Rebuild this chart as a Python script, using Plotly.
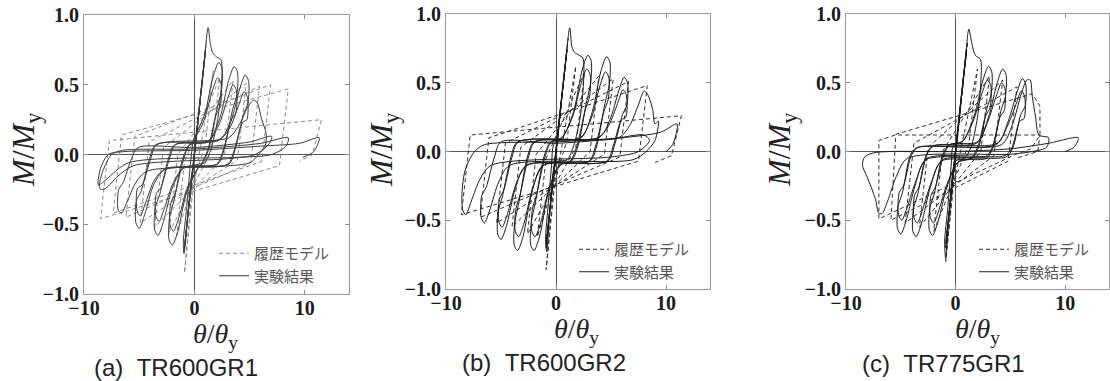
import plotly.graph_objects as go

# ---------------- data (theta/theta_y, M/M_y) ----------------
PANEL_CAPTIONS = ["(a)\u00a0\u00a0TR600GR1", "(b)\u00a0\u00a0TR600GR2", "(c)\u00a0\u00a0TR775GR1"]
LEGEND_NAMES = ["履歴モデル", "実験結果"]
X_TICKS = [-10, 0, 10]
X_TICKTEXT = ["\u221210", "0", "10"]
Y_TICKS = [-1.0, -0.5, 0.0, 0.5, 1.0]
Y_TICKTEXT = ["\u22121.0", "\u22120.5", "0.0", "0.5", "1.0"]

# (a) TR600GR1 : experiment
A_EXP = [
    (0, 0), (0.5, 0.37), (-0.5, -0.36), (1.0, 0.74), (-0.9, -0.67), (1.0, 0.75), (-0.95, -0.70),
    (0.0, 0.02), (0.9, 0.68), (1.24, 0.91), (1.45, 0.79), (1.65, 0.73), (2.0, 0.70), (2.4, 0.68),
    (2.45, 0.50), (2.1, 0.25), (1.5, 0.04), (0.9, -0.06),
    (0.0, -0.08), (-0.5, -0.35), (-0.8, -0.62), (-0.95, -0.71), (-1.0, -0.62), (-0.7, -0.38),
    (-0.4, -0.10), (-0.2, 0.05),
    (-0.1, 0.10), (0.9, 0.28), (1.7, 0.56), (2.2, 0.66), (2.5, 0.62), (2.45, 0.46), (2.05, 0.33), (1.3, 0.04), (0.7, -0.07),
    (0.3, -0.10), (-0.7, -0.27), (-1.5, -0.55), (-2.0, -0.65), (-2.3, -0.61), (-2.25, -0.45), (-1.85, -0.33), (-1.1, -0.04), (-0.5, 0.07),
    (-0.2, 0.09), (0.8, 0.23), (1.6, 0.45), (2.1, 0.55), (2.4, 0.51), (2.35, 0.35), (1.95, 0.28), (1.2, 0.03), (0.6, -0.07),
    (0.4, -0.09), (-0.6, -0.23), (-1.4, -0.45), (-1.9, -0.55), (-2.2, -0.51), (-2.15, -0.35), (-1.75, -0.28), (-1.0, -0.04), (-0.4, 0.07),
    (1.3, 0.10), (2.3, 0.26), (3.1, 0.53), (3.6, 0.63), (3.9, 0.59), (3.85, 0.43), (3.45, 0.32), (2.7, 0.04), (2.1, -0.07),
    (-1.0, -0.10), (-2.0, -0.24), (-2.8, -0.48), (-3.3, -0.58), (-3.6, -0.54), (-3.55, -0.38), (-3.15, -0.29), (-2.4, -0.04), (-1.8, 0.07),
    (1.2, 0.09), (2.2, 0.21), (3.0, 0.40), (3.5, 0.50), (3.8, 0.46), (3.75, 0.30), (3.35, 0.25), (2.6, 0.03), (2.0, -0.07),
    (-0.9, -0.09), (-1.9, -0.20), (-2.7, -0.38), (-3.2, -0.48), (-3.5, -0.44), (-3.45, -0.28), (-3.05, -0.24), (-2.3, -0.04), (-1.7, 0.07),
    (2.3, 0.11), (3.3, 0.24), (4.1, 0.47), (4.6, 0.57), (4.9, 0.53), (4.85, 0.37), (4.45, 0.29), (3.7, 0.04), (3.1, -0.07),
    (-2.7, -0.11), (-3.7, -0.22), (-4.5, -0.43), (-5.0, -0.53), (-5.3, -0.49), (-5.25, -0.33), (-4.85, -0.27), (-4.1, -0.04), (-3.5, 0.07),
    (2.2, 0.10), (3.2, 0.19), (4.0, 0.35), (4.5, 0.45), (4.8, 0.41), (4.75, 0.25), (4.35, 0.23), (3.6, 0.03), (3.0, -0.07),
    (-2.6, -0.10), (-3.6, -0.18), (-4.4, -0.34), (-4.9, -0.44), (-5.2, -0.40), (-5.15, -0.24), (-4.75, -0.22), (-4.0, -0.04), (-3.4, 0.07),
    (3.1, 0.12), (4.1, 0.22), (4.9, 0.35), (5.4, 0.39), (5.7, 0.37), (6.1, 0.25), (6.5, 0.15), (6.4, 0.06), (5.8, 0.0), (5.0, -0.06),
    (-4.3, -0.12), (-5.3, -0.20), (-6.1, -0.34), (-6.6, -0.42), (-6.9, -0.40), (-6.85, -0.25), (-6.45, -0.20), (-5.7, -0.03), (-5.1, 0.05),
    (0.0, 0.05), (5.0, 0.09), (7.0, 0.13), (6.8, 0.08), (5.5, 0.0), (3.0, -0.03),
    (-5.5, -0.08), (-7.0, -0.16), (-8.0, -0.24), (-8.5, -0.25), (-8.6, -0.22), (-8.3, -0.12), (-7.5, 0.0), (-6.5, 0.03),
    (0.0, 0.04), (6.0, 0.08), (8.5, 0.12), (8.3, 0.06), (7.0, 0.0), (4.0, -0.02),
    (-6.0, -0.06), (-8.0, -0.18), (-8.7, -0.22), (-8.5, -0.10), (-7.8, 0.0), (-6.5, 0.02),
    (0.0, 0.03), (6.0, 0.06), (9.5, 0.08), (11.3, 0.12), (10.8, 0.02), (9.8, -0.02),
]
# (a) TR600GR1 : hysteresis model
A_MODEL = [
    (0, 0), (1.1, 0.82), (0.4, 0.30), (-0.9, -0.85), (-0.2, -0.30),
    (1.7, 0.60), (1.0, 0.08), (-1.6, -0.58), (-0.9, -0.05),
    (2.3, 0.55), (1.5, 0.02), (-2.3, -0.56), (-1.5, 0.0),
    (3.5, 0.53), (2.7, -0.02), (-3.6, -0.52), (-2.8, 0.05),
    (4.7, 0.51), (3.9, -0.04), (-4.9, -0.49), (-4.1, 0.09),
    (5.9, 0.49), (5.1, -0.06), (-6.2, -0.45), (-5.4, 0.13),
    (6.9, 0.50), (6.1, -0.05), (-7.35, -0.42), (-6.6, 0.14),
    (8.5, 0.47), (7.7, -0.08), (-8.5, -0.46), (-7.7, 0.10),
    (11.5, 0.25), (10.7, 0.0), (9.5, -0.05),
]

# (b) TR600GR2 : experiment
B_EXP = [
    (0, 0), (0.5, 0.37), (-0.5, -0.36), (1.0, 0.74), (-0.9, -0.67), (1.0, 0.75), (-0.9, -0.70),
    (0.0, 0.02), (0.9, 0.68), (1.25, 0.90), (1.45, 0.76), (1.7, 0.72), (2.1, 0.70), (2.45, 0.68),
    (2.5, 0.50), (2.2, 0.25), (1.6, 0.04), (1.0, -0.06),
    (0.0, -0.08), (-0.5, -0.38), (-0.75, -0.65), (-0.85, -0.73), (-0.95, -0.64), (-0.7, -0.38),
    (-0.4, -0.10), (-0.2, 0.05),
    (0.6, 0.10), (1.6, 0.29), (2.4, 0.60), (2.9, 0.70), (3.2, 0.66), (3.15, 0.50), (2.75, 0.35), (2.0, 0.04), (1.4, -0.07),
    (0.3, -0.10), (-0.7, -0.30), (-1.5, -0.62), (-2.0, -0.72), (-2.3, -0.68), (-2.25, -0.52), (-1.85, -0.36), (-1.1, -0.04), (-0.5, 0.07),
    (0.5, 0.10), (1.5, 0.25), (2.3, 0.50), (2.8, 0.60), (3.1, 0.56), (3.05, 0.40), (2.65, 0.30), (1.9, 0.04), (1.3, -0.07),
    (0.4, -0.10), (-0.6, -0.26), (-1.4, -0.52), (-1.9, -0.62), (-2.2, -0.58), (-2.15, -0.42), (-1.75, -0.31), (-1.0, -0.04), (-0.4, 0.07),
    (2.3, 0.10), (3.3, 0.29), (4.1, 0.59), (4.6, 0.69), (4.9, 0.65), (4.85, 0.49), (4.45, 0.35), (3.7, 0.04), (3.1, -0.07),
    (-1.2, -0.10), (-2.2, -0.30), (-3.0, -0.62), (-3.5, -0.72), (-3.8, -0.68), (-3.75, -0.52), (-3.35, -0.36), (-2.6, -0.04), (-2.0, 0.07),
    (2.2, 0.10), (3.2, 0.24), (4.0, 0.48), (4.5, 0.58), (4.8, 0.54), (4.75, 0.38), (4.35, 0.29), (3.6, 0.04), (3.0, -0.07),
    (-1.1, -0.10), (-2.1, -0.26), (-2.9, -0.52), (-3.4, -0.62), (-3.7, -0.58), (-3.65, -0.42), (-3.25, -0.31), (-2.5, -0.04), (-1.9, 0.07),
    (3.9, 0.10), (4.9, 0.23), (5.7, 0.44), (6.2, 0.54), (6.5, 0.50), (6.45, 0.34), (6.05, 0.27), (5.3, 0.04), (4.7, -0.07),
    (-2.7, -0.10), (-3.7, -0.27), (-4.5, -0.54), (-5.0, -0.64), (-5.3, -0.60), (-5.25, -0.44), (-4.85, -0.32), (-4.1, -0.04), (-3.5, 0.07),
    (3.8, 0.10), (4.8, 0.19), (5.6, 0.35), (6.1, 0.45), (6.4, 0.41), (6.35, 0.25), (5.95, 0.23), (5.2, 0.04), (4.6, -0.07),
    (-2.6, -0.10), (-3.6, -0.23), (-4.4, -0.45), (-4.9, -0.55), (-5.2, -0.51), (-5.15, -0.35), (-4.75, -0.28), (-4.0, -0.04), (-3.4, 0.07),
    (5.7, 0.10), (6.7, 0.19), (7.5, 0.34), (8.0, 0.44), (8.3, 0.42), (8.6, 0.36), (8.8, 0.30), (9.0, 0.20), (9.3, 0.22),
    (9.0, 0.08), (8.2, 0.0), (7.0, -0.06),
    (-4.2, -0.10), (-5.2, -0.22), (-6.0, -0.42), (-6.5, -0.52), (-6.8, -0.48), (-6.75, -0.32), (-6.35, -0.26), (-5.6, -0.04), (-5.0, 0.07),
    (0.0, 0.06), (5.0, 0.09), (8.0, 0.12), (8.5, 0.08), (7.5, 0.0), (5.0, -0.04),
    (-5.9, -0.10), (-6.9, -0.20), (-7.7, -0.36), (-8.2, -0.46), (-8.5, -0.42), (-8.5, -0.25), (-8.2, -0.12), (-7.4, 0.0), (-6.5, 0.05),
    (0.0, 0.07), (6.0, 0.10), (9.5, 0.14), (11.0, 0.20), (10.6, 0.05), (10.0, 0.0),
]
# (b) TR600GR2 : hysteresis model
B_MODEL = [
    (0, 0), (1.1, 0.82), (0.4, 0.30), (-0.9, -0.86), (-0.2, -0.30),
    (1.8, 0.62), (1.0, 0.08), (-1.7, -0.62), (-0.9, -0.05),
    (2.6, 0.58), (1.8, 0.03), (-2.6, -0.60), (-1.8, -0.02),
    (3.9, 0.55), (3.1, 0.0), (-4.0, -0.55), (-3.2, 0.03),
    (5.2, 0.53), (4.4, -0.02), (-5.4, -0.52), (-4.6, 0.06),
    (6.6, 0.51), (5.8, -0.04), (-6.9, -0.48), (-6.1, 0.10),
    (8.3, 0.48), (7.5, -0.07), (-8.6, -0.46), (-7.8, 0.12),
    (11.4, 0.26), (10.5, -0.03), (9.0, -0.08),
]

# (c) TR775GR1 : experiment
C_EXP = [
    (0, 0), (0.5, 0.37), (-0.5, -0.36), (1.0, 0.74), (-0.9, -0.67), (1.0, 0.75), (-0.9, -0.70),
    (0.0, 0.02), (0.9, 0.68), (1.21, 0.89), (1.5, 0.78), (1.8, 0.70), (2.27, 0.67),
    (2.3, 0.50), (2.0, 0.25), (1.4, 0.03), (0.8, -0.05),
    (0.0, -0.07), (-0.5, -0.38), (-0.8, -0.68), (-0.9, -0.78), (-1.0, -0.66), (-0.7, -0.40),
    (-0.4, -0.10), (-0.2, 0.04),
    (0.7, 0.08), (1.7, 0.26), (2.5, 0.52), (3.0, 0.62), (3.3, 0.58), (3.25, 0.42), (2.85, 0.31), (2.1, 0.03), (1.5, -0.05),
    (0.2, -0.08), (-0.8, -0.26), (-1.6, -0.51), (-2.1, -0.61), (-2.4, -0.57), (-2.35, -0.41), (-1.95, -0.31), (-1.2, -0.03), (-0.6, 0.05),
    (0.6, 0.07), (1.6, 0.22), (2.4, 0.42), (2.9, 0.52), (3.2, 0.48), (3.15, 0.32), (2.75, 0.26), (2.0, 0.03), (1.4, -0.05),
    (0.3, -0.07), (-0.7, -0.22), (-1.5, -0.42), (-2.0, -0.52), (-2.3, -0.48), (-2.25, -0.32), (-1.85, -0.26), (-1.1, -0.03), (-0.5, 0.05),
    (2.0, 0.07), (3.0, 0.25), (3.8, 0.50), (4.3, 0.60), (4.6, 0.56), (4.55, 0.40), (4.15, 0.30), (3.4, 0.03), (2.8, -0.05),
    (-1.3, -0.07), (-2.3, -0.26), (-3.1, -0.52), (-3.6, -0.62), (-3.9, -0.58), (-3.85, -0.42), (-3.45, -0.31), (-2.7, -0.03), (-2.1, 0.04),
    (1.9, 0.06), (2.9, 0.21), (3.7, 0.40), (4.2, 0.50), (4.5, 0.46), (4.45, 0.30), (4.05, 0.25), (3.3, 0.02), (2.7, -0.04),
    (-1.2, -0.06), (-2.2, -0.22), (-3.0, -0.42), (-3.5, -0.52), (-3.8, -0.48), (-3.75, -0.32), (-3.35, -0.26), (-2.6, -0.02), (-2.0, 0.04),
    (3.8, 0.06), (4.8, 0.22), (5.6, 0.43), (6.1, 0.53), (6.4, 0.49), (6.35, 0.33), (5.95, 0.27), (5.2, 0.02), (4.6, -0.04),
    (-2.7, -0.06), (-3.7, -0.25), (-4.5, -0.50), (-5.0, -0.60), (-5.3, -0.56), (-5.25, -0.40), (-4.85, -0.30), (-4.1, -0.02), (-3.5, 0.03),
    (3.7, 0.05), (4.7, 0.18), (5.5, 0.34), (6.0, 0.44), (6.3, 0.40), (6.25, 0.24), (5.85, 0.22), (5.1, 0.02), (4.5, -0.03),
    (-2.6, -0.05), (-3.6, -0.21), (-4.4, -0.40), (-4.9, -0.50), (-5.2, -0.46), (-5.15, -0.30), (-4.75, -0.25), (-4.0, -0.02), (-3.4, 0.03),
    (4.2, 0.05), (5.2, 0.20), (6.0, 0.42), (6.5, 0.52), (6.8, 0.52), (7.0, 0.40), (7.3, 0.25), (7.6, 0.12), (8.5, 0.10),
    (8.3, 0.03), (7.0, 0.0), (5.0, -0.02),
    (-4.4, -0.05), (-5.4, -0.18), (-6.2, -0.36), (-6.7, -0.45), (-7.0, -0.45), (-7.3, -0.35), (-7.7, -0.26), (-8.1, -0.18),
    (-8.5, -0.10), (-8.3, -0.04), (-7.5, -0.01), (-6.0, 0.0),
    (0.0, 0.0), (5.0, 0.02), (8.5, 0.06), (11.2, 0.10), (10.8, 0.03), (10.0, 0.0),
]
# (c) TR775GR1 : hysteresis model
C_MODEL = [
    (0, 0), (1.1, 0.80), (0.4, 0.28), (-0.9, -0.80), (-0.2, -0.25),
    (2.0, 0.60), (1.2, 0.05), (-2.0, -0.58), (-1.2, 0.0),
    (3.1, 0.55), (2.3, 0.0), (-3.3, -0.55), (-2.5, 0.03),
    (4.3, 0.52), (3.5, -0.03), (-4.6, -0.52), (-3.8, 0.06),
    (5.6, 0.47), (4.8, -0.07), (-5.9, -0.50), (-5.45, 0.125),
    (7.0, 0.42), (7.7, 0.33), (7.7, 0.12), (6.9, 0.02), (5.5, -0.02),
    (-7.0, -0.49), (-7.0, 0.08), (-5.5, 0.12), (7.7, 0.12), (7.5, 0.0), (5.5, -0.05),
]

EXP_SERIES = [A_EXP, B_EXP, C_EXP]
MODEL_SERIES = [A_MODEL, B_MODEL, C_MODEL]

# ---------------- layout geometry (pixels of the 1110x381 page) ----------------
W, H = 1110, 381
PLOT_BOXES = [(84, 349, 15, 294), (446, 710, 14, 289), (846, 1109, 14, 289)]  # left, right, top, bottom
MODEL_COLORS = ["#8a8a8a", "#2e2e2e", "#2e2e2e"]
EXP_COLORS = ["#3a3a3a", "#1c1c1c", "#1c1c1c"]
YTITLE_POS = [(25, 150), (383, 149), (781, 150)]
XTITLE_POS = [(215, 335), (576, 330), (977, 330)]
CAPTION_POS = [(176, 367), (544, 362), (943, 363)]
LEGEND_POS = [(214, 237), (574, 233), (974, 233)]

fig = go.Figure()
layout = dict(
    width=W, height=H, autosize=False,
    margin=dict(l=0, r=0, t=0, b=0, pad=0, autoexpand=False),
    paper_bgcolor="white", plot_bgcolor="white",
    showlegend=True, annotations=[],
)

tick_font = dict(family="Liberation Serif", size=20, color="#1a1a1a")
for i in range(3):
    sfx = "" if i == 0 else str(i + 1)
    l, r, t, b = PLOT_BOXES[i]
    layout["xaxis" + sfx] = dict(
        domain=[l / W, r / W], range=[-10, 14], tickvals=X_TICKS,
        ticktext=["<b>" + s + "</b>" for s in X_TICKTEXT], automargin=False,
        ticklabelstandoff=-4,
        ticks="inside", ticklen=4, tickcolor="#888888", showline=True, linecolor="#9a9a9a",
        linewidth=1, mirror="ticks", zeroline=True, zerolinecolor="#555555", zerolinewidth=1,
        showgrid=False, tickfont=tick_font, anchor="y" + sfx, fixedrange=True,
    )
    layout["yaxis" + sfx] = dict(
        domain=[1 - b / H, 1 - t / H], range=[-1, 1], tickvals=Y_TICKS,
        ticktext=["<b>" + s + "</b>" for s in Y_TICKTEXT], automargin=False,
        ticks="inside", ticklen=4, tickcolor="#888888", showline=True, linecolor="#9a9a9a",
        linewidth=1, mirror="ticks", zeroline=True, zerolinecolor="#555555", zerolinewidth=1,
        showgrid=False, tickfont=tick_font, anchor="x" + sfx, fixedrange=True,
    )
    leg = "legend" + sfx
    lx, ly = LEGEND_POS[i]
    layout[leg] = dict(
        x=lx / W, y=1 - ly / H, xanchor="left", yanchor="top", bgcolor="rgba(0,0,0,0)",
        font=dict(family="Noto Sans CJK JP", size=15, color="#555555"),
        itemwidth=30, tracegroupgap=0, traceorder="normal",
    )

    model = MODEL_SERIES[i]
    exp = EXP_SERIES[i]
    fig.add_trace(go.Scatter(
        x=[p[0] for p in model], y=[p[1] for p in model], mode="lines",
        line=dict(color=MODEL_COLORS[i], width=1, dash="4px,3px"),
        name=LEGEND_NAMES[0], xaxis="x" + sfx, yaxis="y" + sfx, legend=leg, hoverinfo="skip",
    ))
    fig.add_trace(go.Scatter(
        x=[p[0] for p in exp], y=[p[1] for p in exp], mode="lines",
        line=dict(color=EXP_COLORS[i], width=1, shape="spline", smoothing=0.8),
        name=LEGEND_NAMES[1], xaxis="x" + sfx, yaxis="y" + sfx, legend=leg, hoverinfo="skip",
    ))

    yx, yy = YTITLE_POS[i]
    layout["annotations"].append(dict(
        x=yx / W, y=1 - yy / H, xref="paper", yref="paper", showarrow=False, textangle=-90,
        text="<i>M</i>/<i>M</i><sub>y</sub>",
        font=dict(family="Liberation Serif", size=32, color="#222222"),
        xanchor="center", yanchor="middle",
    ))
    xx, xy = XTITLE_POS[i]
    layout["annotations"].append(dict(
        x=xx / W, y=1 - xy / H, xref="paper", yref="paper", showarrow=False,
        text="<i>θ</i>/<i>θ</i><sub>y</sub>",
        font=dict(family="Liberation Serif", size=28, color="#222222"),
        xanchor="center", yanchor="middle",
    ))
    cx, cy = CAPTION_POS[i]
    layout["annotations"].append(dict(
        x=cx / W, y=1 - cy / H, xref="paper", yref="paper", showarrow=False,
        text=PANEL_CAPTIONS[i],
        font=dict(family="Liberation Sans", size=24, color="#222222"),
        xanchor="center", yanchor="middle",
    ))

fig.update_layout(**layout)
fig.write_html("out.html")
